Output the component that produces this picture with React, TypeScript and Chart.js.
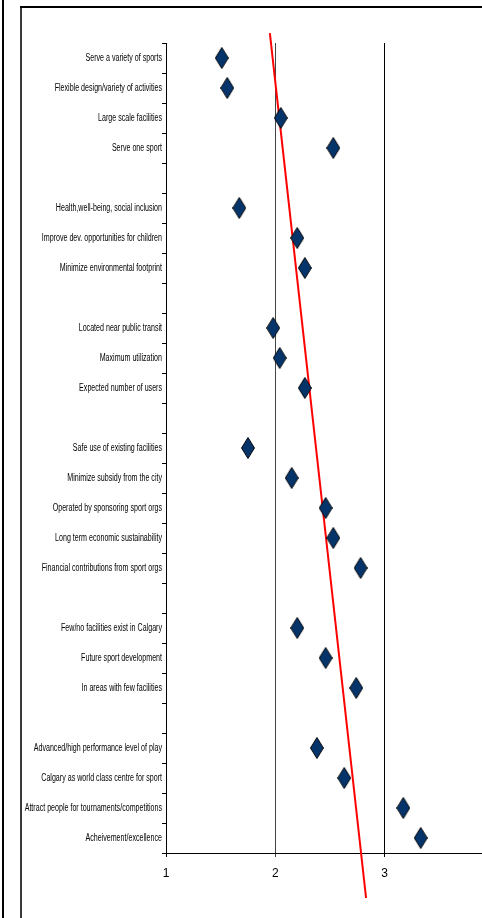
import React, { useEffect, useRef } from "react";
import { Chart, registerables } from "chart.js";

Chart.register(...registerables);

const categories: string[] = [
  "Serve a variety of sports",
  "Flexible design/variety of activities",
  "Large scale facilities",
  "Serve one sport",
  "",
  "Health,well-being, social inclusion",
  "Improve dev. opportunities for children",
  "Minimize environmental footprint",
  "",
  "Located near public transit",
  "Maximum utilization",
  "Expected number of users",
  "",
  "Safe use of existing facilities",
  "Minimize subsidy from the city",
  "Operated by sponsoring sport orgs",
  "Long term economic sustainability",
  "Financial contributions from sport orgs",
  "",
  "Few/no facilities exist in Calgary",
  "Future sport development",
  "In areas with few facilities",
  "",
  "Advanced/high performance level of play",
  "Calgary as world class centre for sport",
  "Attract people for tournaments/competitions",
  "Acheivement/excellence",
];

const scores: (number | null)[] = [
  1.51, 1.56, 2.05, 2.53,
  null,
  1.67, 2.2, 2.27,
  null,
  1.98, 2.04, 2.27,
  null,
  1.75, 2.15, 2.46, 2.53, 2.78,
  null,
  2.2, 2.46, 2.74,
  null,
  2.38, 2.63, 3.17, 3.33,
];

// Trend line endpoints (x value, row position)
const trendX: number[] = [1.95, 2.83];
const trendRow: number[] = [-0.83, 28.0];

const xTicks: number[] = [1, 2, 3, 4];

function makeDiamond(): HTMLCanvasElement {
  const c = document.createElement("canvas");
  c.width = 14;
  c.height = 22;
  const g = c.getContext("2d")!;
  g.beginPath();
  g.moveTo(7, 0.5);
  g.lineTo(13.5, 11);
  g.lineTo(7, 21.5);
  g.lineTo(0.5, 11);
  g.closePath();
  g.fillStyle = "#05346a";
  g.fill();
  g.strokeStyle = "#0a0a0a";
  g.lineWidth = 1;
  g.stroke();
  return c;
}

const narrowLabels = {
  id: "narrowLabels",
  afterDraw(chart: any) {
    const s = chart.scales.y;
    const ctx = chart.ctx;
    ctx.save();
    ctx.font = "10px 'Liberation Sans', Arial, sans-serif";
    ctx.fillStyle = "#000";
    ctx.textAlign = "right";
    ctx.textBaseline = "middle";
    const right = s.right - 4;
    categories.forEach((c, i) => {
      if (!c) return;
      const y = s.getPixelForValue(i);
      ctx.save();
      ctx.translate(right, y);
      ctx.scale(0.71, 1);
      ctx.fillText(c, 0, 0);
      ctx.restore();
    });
    ctx.restore();
  },
};

export default function App() {
  const ref = useRef<HTMLCanvasElement | null>(null);

  useEffect(() => {
    if (!ref.current) return;
    const diamond = makeDiamond();
    const pts = categories
      .map((c, i) => (scores[i] == null ? null : { x: scores[i] as number, y: c }))
      .filter((p) => p !== null) as { x: number; y: string }[];
    const trend = trendX.map((x, i) => ({ x, y: trendRow[i] }));

    const chart = new Chart(ref.current, {
      type: "scatter",
      data: {
        datasets: [
          {
            label: "Scores",
            data: pts as any,
            yAxisID: "y",
            pointStyle: diamond as any,
            pointRadius: 10,
            showLine: false,
          },
          {
            type: "line",
            label: "Trend",
            data: trend as any,
            yAxisID: "y2",
            borderColor: "#ff0000",
            borderWidth: 2,
            pointRadius: 0,
            showLine: true,
            fill: false,
            clip: false as any,
          } as any,
        ],
      },
      plugins: [narrowLabels],
      options: {
        animation: false,
        responsive: false,
        devicePixelRatio: 1,
        layout: { padding: { top: 43, right: 1, left: 0, bottom: 0 } },
        plugins: { legend: { display: false }, tooltip: { enabled: false } },
        scales: {
          x: {
            type: "linear",
            min: 1,
            max: 4,
            afterBuildTicks: (s: any) => {
              s.ticks = xTicks.map((v) => ({ value: v }));
            },
            afterFit: (s: any) => {
              s.height = 65;
            },
            ticks: {
              color: "#000",
              font: { family: "'Liberation Sans', Arial", size: 12 },
              padding: 9,
              callback: (v: any) => (v === 4 ? "" : String(v)),
            },
            grid: {
              drawOnChartArea: true,
              drawTicks: true,
              tickLength: 4,
              color: (ctx: any) => (ctx.tick && ctx.tick.value === 2 ? "#444" : "#000"),
              lineWidth: 1,
            },
            border: { display: true, color: "#000", width: 1 },
          },
          y: {
            type: "category",
            labels: categories,
            offset: true,
            position: "left",
            afterFit: (s: any) => {
              s.width = 166;
            },
            ticks: {
              display: false,
              autoSkip: false,
            },
            grid: {
              offset: true,
              drawOnChartArea: false,
              drawTicks: true,
              tickLength: 4,
              color: "#000",
            },
            border: { display: true, color: "#000", width: 1 },
          },
          y2: {
            type: "linear",
            display: false,
            min: -0.5,
            max: 26.5,
            reverse: true,
          },
        },
      } as any,
    });
    return () => chart.destroy();
  }, []);

  return (
    <div
      style={{
        position: "absolute",
        left: 0,
        top: 0,
        width: 482,
        height: 918,
        overflow: "hidden",
        background: "#fff",
      }}
    >
      <canvas
        ref={ref}
        width={505}
        height={918}
        style={{ position: "absolute", left: 0, top: 0, width: 505, height: 918 }}
      />
      <div style={{ position: "absolute", left: 2, top: 0, width: 2, height: 918, background: "#000" }} />
      <div style={{ position: "absolute", left: 20, top: 6, width: 2, height: 912, background: "#3a3a3a" }} />
      <div style={{ position: "absolute", left: 20, top: 6, width: 462, height: 2, background: "#000" }} />
    </div>
  );
}
